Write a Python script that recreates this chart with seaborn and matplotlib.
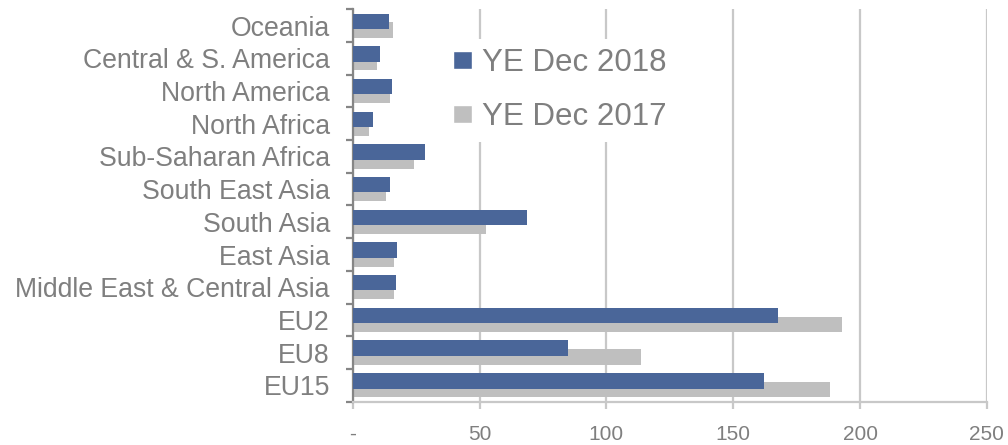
import pandas as pd
import numpy as np
import matplotlib.pyplot as plt
import seaborn as sns

regions = ["Oceania", "Central & S. America", "North America", "North Africa",
           "Sub-Saharan Africa", "South East Asia", "South Asia", "East Asia",
           "Middle East & Central Asia", "EU2", "EU8", "EU15"]
ye_2018 = [14.3, 10.9, 15.4, 8.0, 28.5, 14.6, 68.5, 17.6, 17.0, 167.8, 84.7, 162.1]
ye_2017 = [15.9, 9.7, 14.6, 6.4, 24.1, 12.9, 52.7, 16.3, 16.3, 193.0, 113.6, 188.1]
series = ["YE Dec 2018", "YE Dec 2017"]
x_ticks = [0, 50, 100, 150, 200, 250]
x_labels = ["-", "50", "100", "150", "200", "250"]

df = pd.DataFrame({
    "region": regions * 2,
    "value": ye_2018 + ye_2017,
    "series": [series[0]] * len(regions) + [series[1]] * len(regions),
})

blue = "#4A6699"
grey = "#BFBFBF"
txt = "#7F7F7F"

sns.set_style("white")
plt.rcParams["font.family"] = ["Liberation Sans", "DejaVu Sans"]

fig = plt.figure(figsize=(10.08, 4.45), dpi=100)
ax = fig.add_axes([0.350, 0.0975, 0.629, 0.8815])

sns.barplot(data=df, y="region", x="value", hue="series", order=regions,
            hue_order=series, palette=[blue, grey], width=0.94, dodge=True,
            saturation=1, gap=0, ax=ax, legend=True)

# Excel-style overlap: pull the two bars of each group together, blue on top
for i, cont in enumerate(ax.containers):
    shift = 0.1 if i == 0 else -0.1
    for p in cont:
        p.set_y(p.get_y() + shift)
        p.set_zorder(3 if i == 0 else 2)
        p.set_linewidth(0)

ax.set_xlim(0, 250)
ax.set_ylim(len(regions) - 0.5, -0.5)
ax.set_xticks(x_ticks)
ax.set_xticklabels(x_labels)
ax.set_xlabel("")
ax.set_ylabel("")

ax.grid(axis="x", color="#C8C8C8", linewidth=1.6, zorder=0)
ax.set_axisbelow(True)

for s in ["top", "right"]:
    ax.spines[s].set_visible(False)
ax.spines["left"].set_color("#868686")
ax.spines["left"].set_linewidth(1.6)
ax.spines["bottom"].set_color("#C8C8C8")
ax.spines["bottom"].set_linewidth(1.6)

ax.set_yticks(np.arange(len(regions) + 1) - 0.5, minor=True)
ax.tick_params(axis="y", which="major", length=0, pad=16.5, labelsize=19.2, labelcolor=txt)
ax.tick_params(axis="y", which="minor", length=5, width=1.6, color="#868686", left=True)
ax.tick_params(axis="x", which="major", length=5, width=1.6, color="#C8C8C8",
               bottom=True, pad=12, labelsize=15, labelcolor=txt)

# white box behind the legend hides the gridline, like the original
leg = ax.legend(loc="upper left", bbox_to_anchor=(0.144, 0.925), frameon=True,
                facecolor="white", edgecolor="none", framealpha=1, fancybox=False,
                fontsize=22.5, handlelength=0.6, handleheight=0.5,
                handletextpad=0.3, labelspacing=0.77, borderpad=0.3, borderaxespad=0)
for t in leg.get_texts():
    t.set_color(txt)

fig.savefig("out.png", dpi=100)
